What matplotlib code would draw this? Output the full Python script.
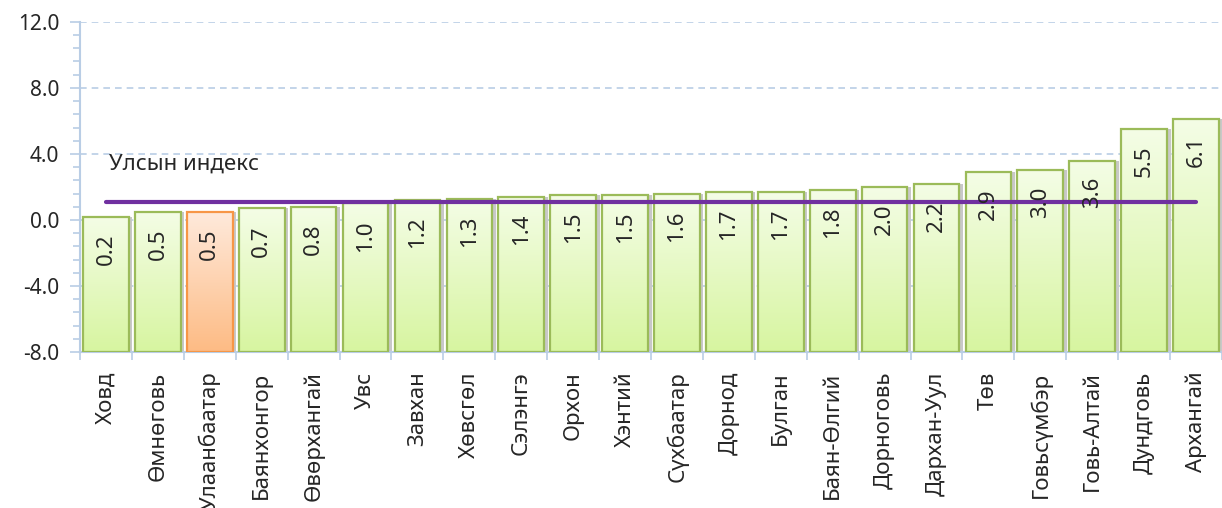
import matplotlib
matplotlib.use("Agg")
import matplotlib.pyplot as plt
import numpy as np
from matplotlib.colors import LinearSegmentedColormap
from matplotlib.patches import Rectangle

plt.rcParams['font.family'] = ['Noto Sans', 'DejaVu Sans']

aimags = ['Ховд', 'Өмнөговь', 'Улаанбаатар', 'Баянхонгор', 'Өвөрхангай', 'Увс',
          'Завхан', 'Хөвсгөл', 'Сэлэнгэ', 'Орхон', 'Хэнтий', 'Сүхбаатар',
          'Дорнод', 'Булган', 'Баян-Өлгий', 'Дорноговь', 'Дархан-Уул', 'Төв',
          'Говьсүмбэр', 'Говь-Алтай', 'Дундговь', 'Архангай']
values = [0.2, 0.5, 0.5, 0.7, 0.8, 1.0, 1.2, 1.3, 1.4, 1.5, 1.5, 1.6,
          1.7, 1.7, 1.8, 2.0, 2.2, 2.9, 3.0, 3.6, 5.5, 6.1]
national_index = 1.1
national_label = 'Улсын индекс'
highlight = 'Улаанбаатар'

ymin, ymax = -8, 12
grid_col = '#b9cde5'
txt_col = '#262626'

fig = plt.figure(figsize=(12.22, 5.08), dpi=100)
ax = fig.add_axes([0.0655, 0.307, 0.9345, 0.650])

x = np.arange(len(aimags))
w = 0.88

green_cm = LinearSegmentedColormap.from_list('g', ['#d7f5a0', '#f4fde6'])
orange_cm = LinearSegmentedColormap.from_list('o', ['#fdbb84', '#ffeadc'])
grad = np.linspace(0, 1, 256).reshape(-1, 1)

# shadows
for xi, v in zip(x, values):
    ax.add_patch(Rectangle((xi - w / 2 + 0.07, ymin), w, v - ymin,
                           facecolor='#c8c8c8', edgecolor='none', zorder=1.5))

bars = ax.bar(x, [v - ymin for v in values], bottom=ymin, width=w,
              facecolor='none', linewidth=1.6, zorder=3)
for b, name, v in zip(bars, aimags, values):
    is_hl = name == highlight
    b.set_edgecolor('#f79646' if is_hl else '#9bbb59')
    bx, by = b.get_x(), b.get_y()
    im = ax.imshow(grad, cmap=orange_cm if is_hl else green_cm, origin='lower',
                   extent=[bx, bx + b.get_width(), by, by + b.get_height()],
                   aspect='auto', zorder=2.5)
    im.set_clip_path(b)
    ax.annotate(f'{v:.1f}', (b.get_x() + b.get_width() / 2, v),
                xytext=(0, -12), textcoords='offset points', rotation=90,
                ha='center', va='top', fontsize=16, color=txt_col, zorder=5)

ax.plot([x[0], x[-1]], [national_index, national_index], color='#7030a0',
        linewidth=3, zorder=4, solid_capstyle='round')
ax.text(0.05, 3.4, national_label, fontsize=16, color=txt_col, va='center',
        ha='left', zorder=5)

ax.set_xlim(-0.5, len(aimags) - 0.5)
ax.set_ylim(ymin, ymax)
ax.set_yticks(np.arange(ymin, ymax + 0.1, 4))
ax.set_yticks(np.arange(ymin, ymax + 0.1, 0.8), minor=True)
ax.set_yticklabels([f'{t:.1f}' for t in np.arange(ymin, ymax + 0.1, 4)])
ax.yaxis.grid(True, which='major', linestyle=(0, (4, 3)), color=grid_col,
              linewidth=1.2)
ax.set_axisbelow(True)

ax.set_xticks(x)
ax.set_xticklabels(aimags, rotation=90, fontsize=16, color=txt_col)
ax.set_xticks(np.arange(-0.5, len(aimags), 1), minor=True)
ax.tick_params(axis='x', which='major', length=0, pad=14)
ax.tick_params(axis='x', which='minor', length=6, color=grid_col, width=1.2)
ax.tick_params(axis='y', which='major', length=7, color=grid_col, width=1.2,
               labelsize=15, labelcolor=txt_col, pad=8)
ax.tick_params(axis='y', which='minor', length=5, color=grid_col, width=1.2)

for s in ['top', 'right']:
    ax.spines[s].set_visible(False)
for s in ['left', 'bottom']:
    ax.spines[s].set_color(grid_col)
    ax.spines[s].set_linewidth(1.5)

fig.savefig('out.png', dpi=100)
